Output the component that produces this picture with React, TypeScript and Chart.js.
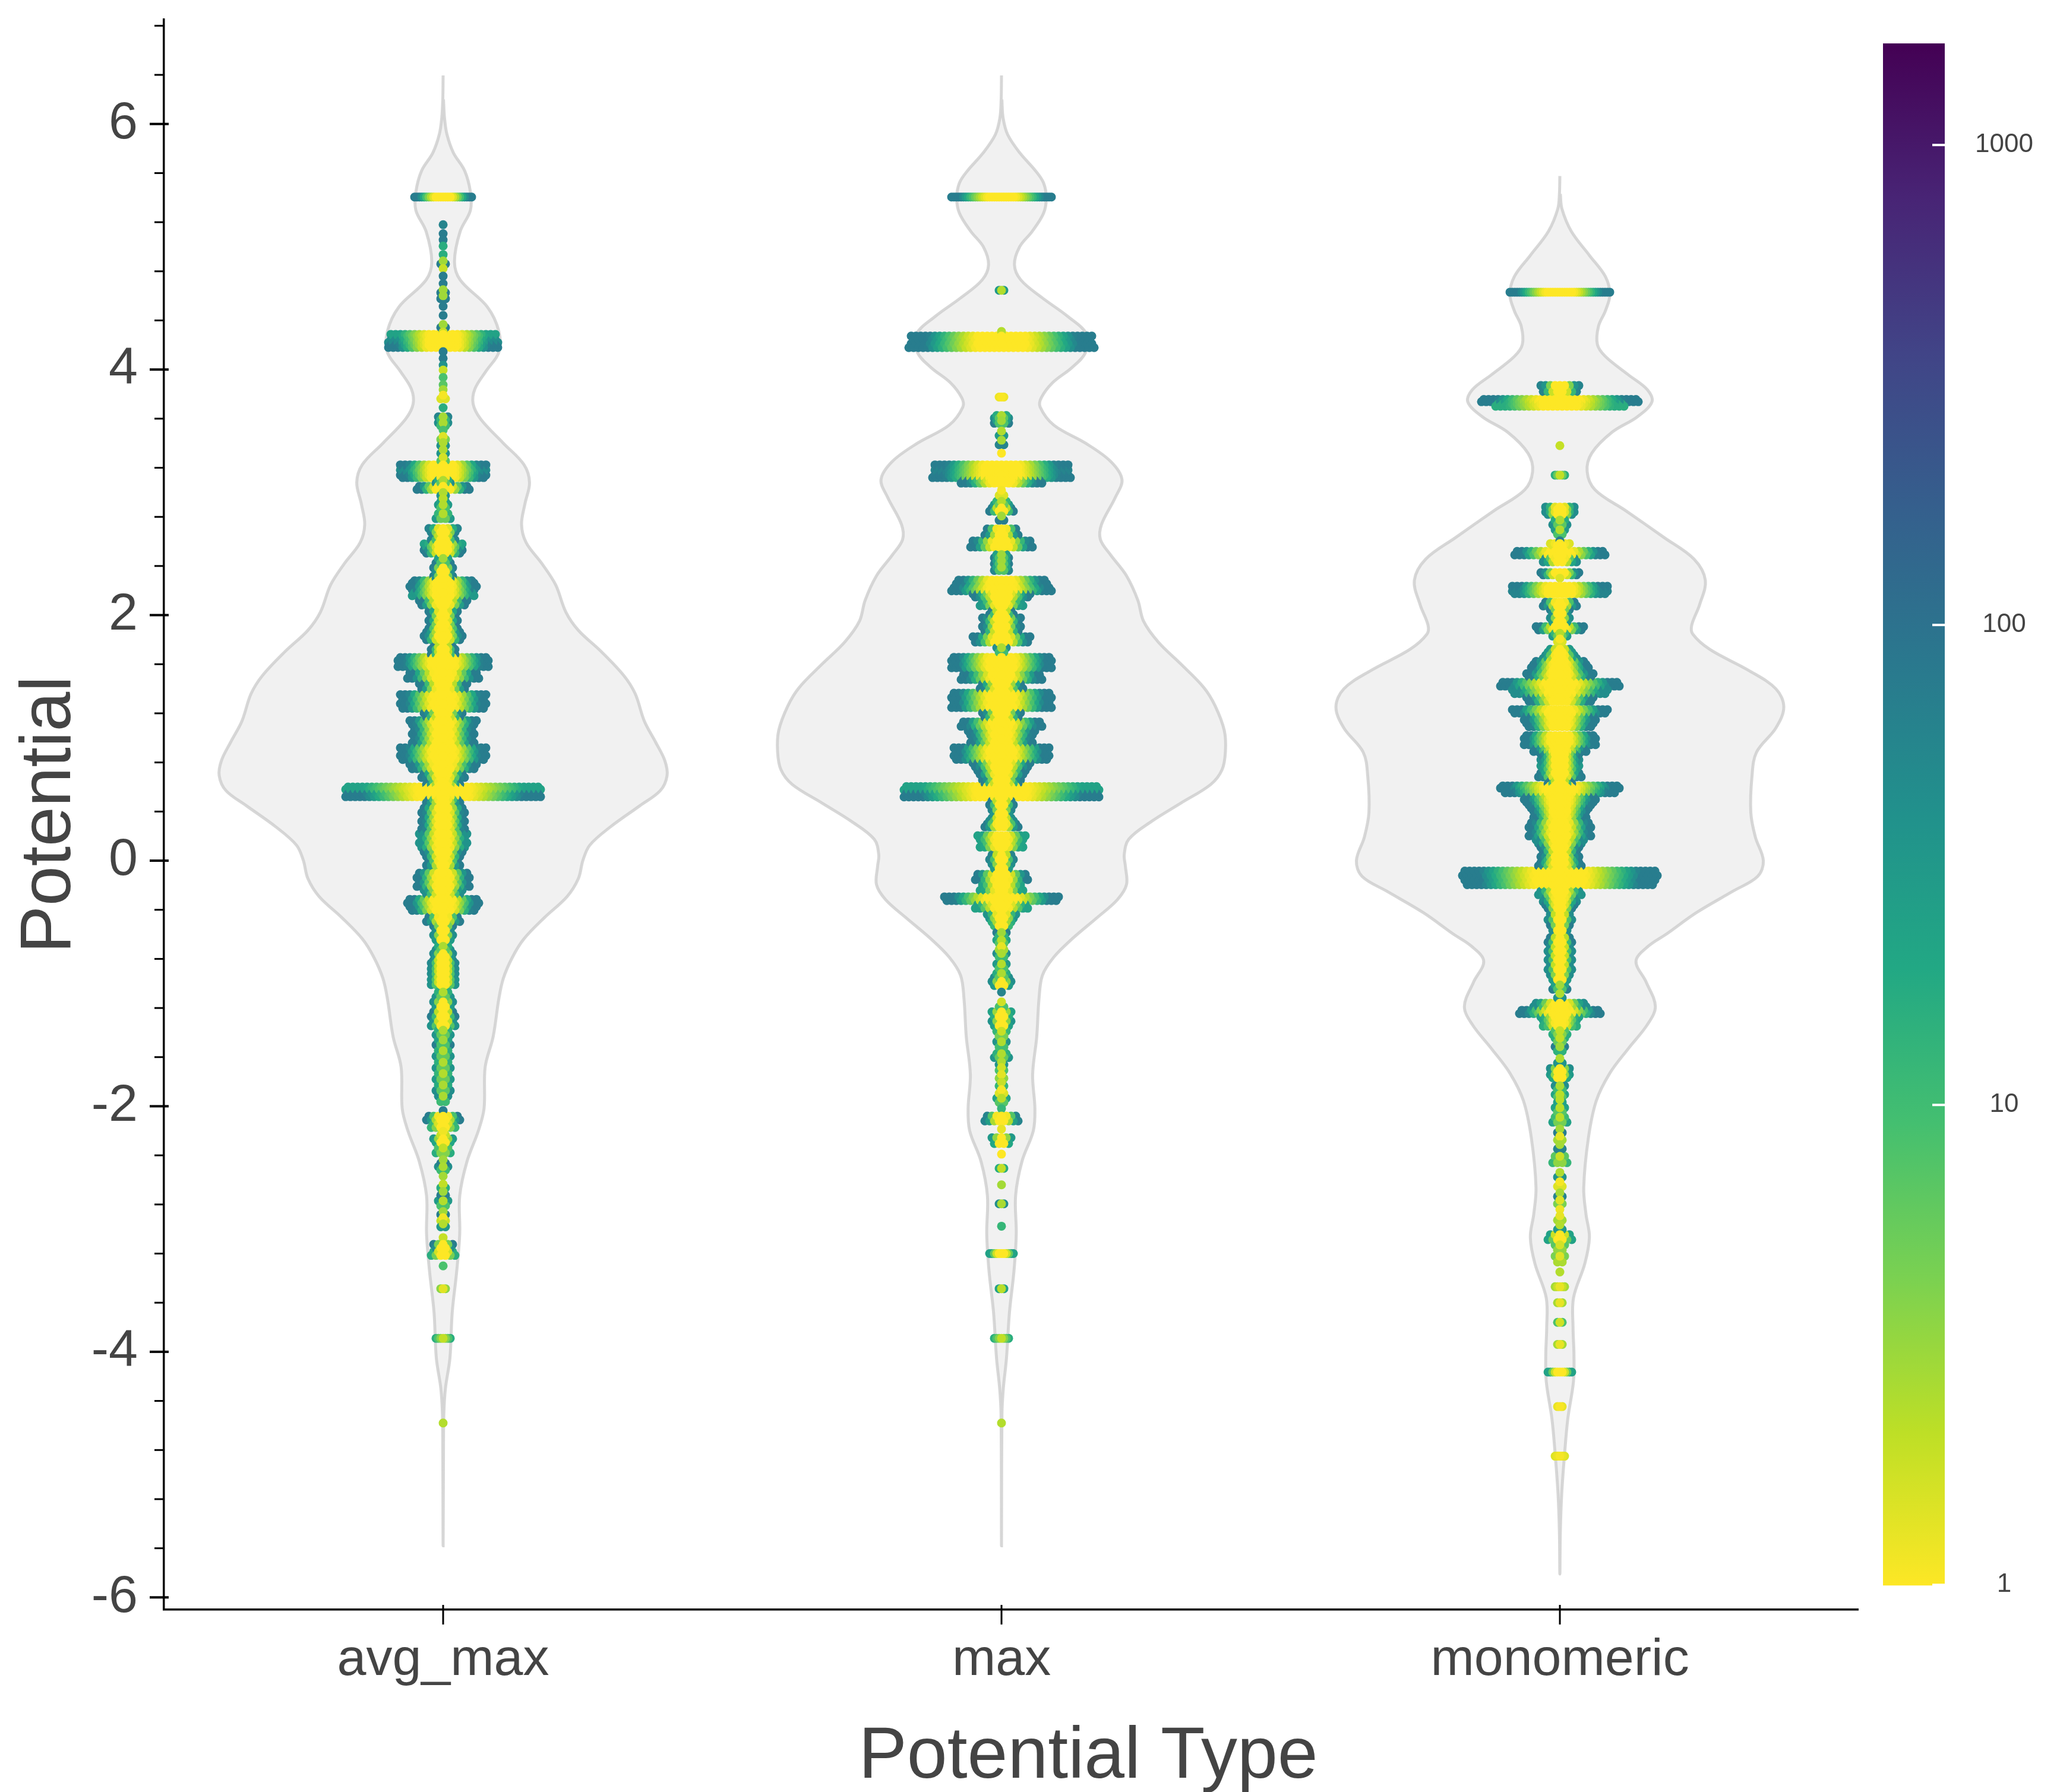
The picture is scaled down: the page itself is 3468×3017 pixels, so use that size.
import React, { useEffect, useRef } from "react";
import { Chart, registerables } from "chart.js";

Chart.register(...registerables);

const categories = ["avg_max", "max", "monomeric"];
const yTickMajorEvery = 2;
const colorTicks = [1, 10, 100, 1000];
const colorMax = 1628;
const xTitle = "Potential Type";
const yTitle = "Potential";

// violin outline: [potential, density width]
const avgMaxViolin = [
  [6.395,0],[6.2,1.5],[6.05,6],[5.914,17],[5.766,45],[5.618,95],[5.445,120],[5.297,120],[5.125,75],[4.879,50],[4.73,75],[4.509,195],[4.312,245],[4.14,245],[3.99,190],[3.843,140],[3.72,132],[3.597,165],[3.4,265],[3.227,355],[3.08,380],[2.907,360],[2.739,345],[2.591,365],[2.418,435],[2.246,495],[2.024,540],[1.876,595],[1.704,695],[1.507,795],[1.359,845],[1.137,885],[0.964,935],[0.816,975],[0.693,985],[0.57,955],[0.447,865],[0.274,735],[0.126,645],[0.003,615],[-0.145,595],[-0.293,545],[-0.465,445],[-0.638,355],[-0.786,305],[-0.958,265],[-1.126,245],[-1.434,220],[-1.68,185],[-2.02,180],[-2.2,155],[-2.45,105],[-2.73,73],[-3.04,73],[-3.34,60],[-3.68,40],[-4.05,30],[-4.3,10],[-4.51,3],[-4.82,1.5],[-5.58,0],
];
const maxViolin = [
  [6.395,0],[6.2,1.5],[6.05,7],[5.914,27],[5.766,80],[5.618,150],[5.52,185],[5.396,197],[5.273,185],[5.125,135],[5,80],[4.854,57],[4.73,85],[4.583,180],[4.435,290],[4.287,375],[4.14,370],[4.016,310],[3.893,225],[3.77,175],[3.695,170],[3.548,230],[3.4,370],[3.252,480],[3.104,530],[2.956,500],[2.739,440],[2.616,435],[2.49,480],[2.32,550],[2.12,600],[1.95,625],[1.78,690],[1.6,790],[1.41,890],[1.26,940],[1.06,980],[0.89,985],[0.74,970],[0.62,920],[0.47,790],[0.32,660],[0.175,560],[0.05,540],[-0.046,545],[-0.194,550],[-0.317,510],[-0.465,420],[-0.638,310],[-0.786,230],[-0.934,180],[-1.126,165],[-1.434,155],[-1.742,137],[-2.02,147],[-2.2,140],[-2.45,90],[-2.73,62],[-3.04,65],[-3.34,55],[-3.68,35],[-4.05,22],[-4.3,8],[-4.51,2],[-5.58,0],
];
const monomericViolin = [
  [5.576,0],[5.43,2],[5.31,9],[5.127,50],[4.93,130],[4.758,200],[4.61,220],[4.477,200],[4.353,170],[4.205,165],[4.107,200],[3.959,300],[3.836,385],[3.737,405],[3.614,340],[3.49,230],[3.318,140],[3.17,120],[3.02,155],[2.85,290],[2.63,460],[2.456,590],[2.283,640],[2.086,615],[1.918,580],[1.844,585],[1.72,660],[1.55,830],[1.4,950],[1.25,985],[1.08,950],[0.883,865],[0.686,845],[0.39,840],[0.192,860],[0,895],[-0.128,870],[-0.25,760],[-0.424,600],[-0.596,470],[-0.695,390],[-0.818,335],[-0.99,380],[-1.187,420],[-1.335,385],[-1.533,300],[-1.73,220],[-1.957,160],[-2.265,125],[-2.665,105],[-2.88,115],[-3.066,130],[-3.28,110],[-3.56,60],[-3.805,58],[-4.02,62],[-4.24,60],[-4.545,35],[-4.85,20],[-5.16,8],[-5.47,2],[-5.81,0],
];
const violinScale = 2456;

// swarm rows: [potential, points per side, colour value at the row's edge]
const avgMaxSwarm = [
  [5.405,12,100],[5.18,0,80],[5.106,0,100],[5.056,0,100],[5.006,0,20],[4.936,0,20],[4.872,1,100],[4.823,0,2],[4.761,0,100],[4.7,0,100],[4.638,1,100],[4.589,1,100],[4.515,0,100],[4.441,0,100],[4.355,1,100],[4.306,0,2],[4.28,22,30],[4.23,23,60],[4.19,23,100],[4.146,0,100],[4.091,0,100],[4.036,0,50],[3.996,0,2],[3.936,0,10],[3.876,0,8],[3.836,0,3],[3.776,1,1.5],[3.689,0,20],[3.603,2,80],[3.554,2,60],[3.506,0,10],[3.443,1,5],[3.393,1,50],[3.332,1,50],[3.27,1,8],[3.213,18,100],[3.171,18,60],[3.13,18,100],[3.086,3,60],[3.036,11,100],[2.986,1,50],[2.936,1,30],[2.886,2,40],[2.806,3,40],
  [2.69,6,80],[2.628,5,80],[2.567,8,30],[2.517,8,100],[2.443,3,100],[2.37,4,100],[2.308,4,100],[2.27,13,100],[2.22,14,100],[2.17,13,40],[2.1,10,100],[2.012,6,100],[1.94,6,100],[1.876,7,100],[1.815,8,100],[1.73,5,100],[1.69,5,100],[1.642,19,100],[1.593,19,100],[1.507,15,100],[1.42,10,100],[1.334,18,100],[1.26,18,100],[1.186,8,100],[1.125,14,100],[1.05,13,100],[0.977,13,100],[0.903,18,100],[0.84,18,100],[0.767,14,100],[0.693,9,100],[0.63,7,100],[0.59,41,30],[0.533,41,100],[0.484,7,100],[0.41,9,100],[0.336,9,100],[0.274,9,100],[0.2,10,50],[0.126,10,50],[0.052,8,100],[-0.02,7,100],[-0.12,11,100],[-0.194,11,100],[-0.256,8,60],[-0.33,15,100],[-0.39,14,100],[-0.478,7,100],[-0.55,4,100],[-0.626,4,60],[-0.712,3,60],[-0.77,4,70],[-0.823,5,70],[-0.87,5,60],[-0.91,5,60],[-0.96,5,50],[-1,5,50],[-1.09,3,50],[-1.17,4,60],
  [-1.25,5,100],[-1.326,5,50],[-1.4,3,50],[-1.48,3,100],[-1.57,3,50],[-1.665,3,50],[-1.757,3,40],[-1.85,3,60],[-1.94,2,60],[-2.035,0,100],[-2.096,7,100],[-2.158,5,15],[-2.22,1,2],[-2.28,4,40],[-2.36,3,20],[-2.45,1,100],[-2.506,2,60],[-2.57,0,3],[-2.65,1,20],[-2.71,1,100],[-2.79,2,40],[-2.87,1,100],[-2.92,1,2],[-2.97,1,40],[-3.07,0,2],[-3.14,4,100],[-3.2,5,20],[-3.3,0,10],[-3.486,1,4],[-3.89,3,20],[-4.58,0,2.5],
];
const maxSwarm = [
  [5.405,21,100],[4.645,1,40],[4.31,0,2.5],[4.26,38,100],[4.195,39,100],[3.776,1,1.2],[3.615,3,60],[3.573,3,100],[3.48,1,40],[3.406,1,80],[3.319,0,1],[3.213,28,100],[3.171,28,80],[3.13,29,100],[3.086,17,100],[2.996,1,1.5],[2.913,3,40],[2.859,5,100],[2.79,1,100],
  [2.677,7,100],[2.579,13,100],[2.48,3,100],[2.43,3,100],[2.377,3,80],[2.27,19,100],[2.21,21,100],[2.16,12,100],[2.093,9,40],[2.02,5,100],[1.963,8,100],[1.888,8,100],[1.802,12,100],[1.716,2,60],[1.642,21,100],[1.585,21,100],[1.494,17,100],[1.42,9,100],[1.346,21,100],[1.267,21,100],[1.186,8,100],[1.112,17,100],[1.04,14,100],[0.977,13,100],[0.903,20,100],[0.84,20,100],[0.78,12,100],[0.718,10,100],[0.644,8,100],[0.59,41,30],[0.533,41,100],[0.47,5,100],[0.397,4,80],[0.336,5,60],[0.287,7,100],[0.188,10,30],[0.126,9,30],[0.028,5,80],[-0.046,4,60],[-0.133,11,100],[-0.22,9,30],[-0.31,24,100],[-0.372,11,30],[-0.453,6,50],[-0.515,4,20],[-0.6,2,100],[-0.66,2,30],[-0.712,1,3],[-0.77,2,60],[-0.86,2,40],[-0.934,3,60],[-1,4,60],[-1.07,0,80],
  [-1.17,1,10],[-1.25,4,30],[-1.326,4,50],[-1.41,2,15],[-1.496,2,50],[-1.588,3,50],[-1.65,1,50],[-1.696,1,10],[-1.757,1,4],[-1.82,1,15],[-1.88,1,1.5],[-1.952,2,30],[-2.02,0,15],[-2.1,7,80],[-2.186,0,1.3],[-2.28,4,40],[-2.39,0,1],[-2.506,1,20],[-2.64,0,3],[-2.795,1,60],[-2.977,0,15],[-3.2,5,30],[-3.486,1,30],[-3.89,3,20],[-4.58,0,2.5],
];
const monomericSwarm = [
  [4.63,21,100],[3.845,8,80],[3.747,33,100],[3.71,27,20],[3.38,0,2],[3.14,2,20],[2.87,6,60],[2.83,6,60],[2.755,3,60],[2.677,2,40],[2.605,0,100],[2.575,4,1.5],[2.505,19,100],[2.448,7,60],[2.337,8,100],[2.3,0,1.5],[2.225,20,100],[2.185,20,80],[2.09,7,100],[2.028,4,100],
  [1.96,4,60],[1.893,10,100],[1.84,3,40],[1.795,1,1.5],[1.71,5,40],[1.66,7,60],[1.61,11,100],[1.56,12,100],[1.51,14,100],[1.437,25,100],[1.376,20,60],[1.314,14,100],[1.216,20,100],[1.16,15,100],[1.105,14,100],[1.006,15,100],[0.957,15,100],[0.9,11,100],[0.858,8,100],[0.81,8,60],[0.76,8,40],[0.698,9,100],[0.636,5,100],[0.6,25,100],[0.562,23,100],[0.51,15,100],[0.464,14,100],[0.415,12,100],[0.365,11,100],[0.29,13,100],[0.217,13,100],[0.155,10,60],[0.094,8,100],[0.02,8,100],[-0.03,9,100],[-0.103,41,100],[-0.177,40,100],[-0.263,9,50],[-0.32,7,60],[-0.374,6,100],[-0.46,5,60],[-0.547,4,100],[-0.645,5,100],[-0.72,5,60],[-0.79,5,60],[-0.867,5,60],[-0.95,4,60],[-1.03,3,100],[-1.1,1,50],[-1.175,11,60],[-1.232,17,100],[-1.286,8,30],[-1.336,7,20],[-1.4,3,20],[-1.46,2,20],[-1.533,2,100],[-1.63,1,50],[-1.705,4,60],[-1.755,4,40],[-1.85,2,60],[-1.915,2,30],
  [-1.957,1,30],[-2.03,2,30],[-2.11,3,30],[-2.2,1,100],[-2.26,1,3],[-2.33,1,80],[-2.434,3,15],[-2.558,1,50],[-2.634,1,1.5],[-2.72,1,80],[-2.78,1,5],[-2.84,0,1.2],[-2.91,1,3],[-2.985,1,40],[-3.066,5,30],[-3.15,2,8],[-3.245,2,5],[-3.35,0,2.5],[-3.47,2,3],[-3.6,1,3],[-3.76,1,10],[-3.94,1,3],[-4.165,5,30],[-4.446,1,1.3],[-4.85,2,1.5],
];

const violins = [avgMaxViolin, maxViolin, monomericViolin];
const swarms = [avgMaxSwarm, maxSwarm, monomericSwarm];

const FONT = "'Liberation Sans', Arial, Helvetica, sans-serif";
const TEXT = "#444444";
const VIRIDIS = ["#440154","#482475","#414487","#355f8d","#2a788e","#21918c","#22a884","#44bf70","#7ad151","#bddf26","#fde725"];

function hex(c: string) { return [1,3,5].map((i) => parseInt(c.slice(i,i+2),16)); }
function viridis(v: number) {
  const t = Math.max(0, Math.min(1, 1 - Math.log10(v) / Math.log10(colorMax))) * 10;
  const i = Math.min(9, Math.floor(t)), f = t - i;
  const a = hex(VIRIDIS[i]), b = hex(VIRIDIS[i+1]);
  return `rgb(${a.map((x,n)=>Math.round(x+(b[n]-x)*f)).join(",")})`;
}

const swarmStep = 4 / 940;
function swarmPoints(center: number, rows: number[][]) {
  const pts: {x:number;y:number;c:string;o:number}[] = [];
  rows.forEach(([y, n, edge], r) => {
    const gaps = [rows[r - 1], rows[r + 1]].filter(Boolean).map((o) => Math.abs(o[0] - y));
    const gap = Math.min(...gaps);
    const spread = gap < 0.11 ? gap / 4 : 0;
    for (let k = -n; k <= n; k++) {
      const t = n === 0 ? 1 : Math.abs(k) / n;
      const u = n === 0 ? 1 : n <= 3 ? 0.25 + 0.75 * t : Math.pow(Math.max(0, Math.min(1, (t - 0.25) / 0.55)), 1.3);
      const off = n >= 1 ? (k % 2 === 0 ? spread : -spread) : 0;
      pts.push({ x: center + k * swarmStep, y: y + off, c: viridis(Math.pow(edge, u * 0.93)), o: Math.abs(k) });
    }
  });
  return pts.sort((a, b) => b.o - a.o);
}
function violinPath(center: number, rows: number[][]) {
  const left = rows.map(([y, w]) => ({ x: center - w / violinScale, y }));
  const right = rows.slice(1, -1).reverse().map(([y, w]) => ({ x: center + w / violinScale, y }));
  return [...left, ...right];
}

const violinFill = {
  id: "violinFill",
  beforeDatasetsDraw(chart: any) {
    const { ctx } = chart;
    chart.data.datasets.forEach((d: any, i: number) => {
      if (!d.isViolin) return;
      const line = chart.getDatasetMeta(i).dataset;
      ctx.save();
      ctx.beginPath();
      line.path(ctx);
      ctx.closePath();
      ctx.fillStyle = "#f1f1f1";
      ctx.fill();
      ctx.restore();
    });
  },
};

const decorations = {
  id: "decorations",
  afterDatasetsDraw(chart: any) {
    const { ctx, scales, chartArea } = chart;
    ctx.save();
    ctx.strokeStyle = "#000";
    for (const t of scales.x.ticks) {
      const px = scales.x.getPixelForValue(t.value);
      ctx.lineWidth = 3;
      ctx.beginPath(); ctx.moveTo(px, chartArea.bottom - 8); ctx.lineTo(px, chartArea.bottom + 25); ctx.stroke();
    }
    for (const t of scales.y.ticks) {
      const py = scales.y.getPixelForValue(t.value);
      const major = isMajor(t.value);
      ctx.lineWidth = major ? 4 : 3;
      ctx.beginPath();
      ctx.moveTo(chartArea.left - (major ? 24 : 16), py);
      ctx.lineTo(chartArea.left + (major ? 8 : 0), py);
      ctx.stroke();
    }
    const c = scales.c;
    const top = c.getPixelForValue(colorMax), bottom = c.getPixelForValue(1) + 1;
    const barL = chartArea.right + 42, barR = chartArea.right + 146;
    const g = ctx.createLinearGradient(0, top, 0, bottom);
    VIRIDIS.forEach((col, i) => g.addColorStop(i / 10, col));
    ctx.fillStyle = g;
    ctx.fillRect(barL, top, barR - barL, bottom - top);
    ctx.fillStyle = "#fff";
    for (const v of colorTicks) {
      ctx.fillRect(barR - 21, c.getPixelForValue(v) - 2, 21, 4);
    }
    ctx.fillStyle = TEXT;
    ctx.font = `122px ${FONT}`;
    ctx.textAlign = "center";
    ctx.textBaseline = "alphabetic";
    ctx.fillText(xTitle, 1832, 2993);
    ctx.restore();
  },
};

function isMajor(v: number) {
  return Math.abs(v - Math.round(v)) < 1e-6 && Math.round(v) % yTickMajorEvery === 0;
}

function zeroPad(s: any) { s.paddingTop = 0; s.paddingBottom = 0; s.paddingLeft = 0; s.paddingRight = 0; }

export default function App() {
  const ref = useRef<HTMLCanvasElement>(null);
  useEffect(() => {
    const datasets: any[] = [];
    categories.forEach((name, i) => {
      datasets.push({
        label: name + " violin", isViolin: true, data: violinPath(i, violins[i]), showLine: true,
        tension: 0.35, borderColor: "rgba(205,205,205,0.8)", borderWidth: 5, pointRadius: 0, order: 2, fill: false,
      });
    });
    categories.forEach((name, i) => {
      const pts = swarmPoints(i, swarms[i]);
      datasets.push({
        label: name, data: pts.map((p) => ({ x: p.x, y: p.y })), pointBackgroundColor: pts.map((p) => p.c),
        pointBorderWidth: 0, pointRadius: 7.5, showLine: false, order: 1,
      });
    });
    const chart = new Chart(ref.current!, {
      type: "scatter",
      data: { datasets },
      plugins: [violinFill, decorations],
      options: {
        animation: false, responsive: false, devicePixelRatio: 1, events: [],
        layout: { padding: { top: 33, left: 0, right: 0, bottom: 0 }, autoPadding: false },
        plugins: { legend: { display: false }, tooltip: { enabled: false }, title: { display: false } },
        scales: {
          x: {
            type: "linear", min: -0.5, max: 2.534, position: "bottom",
            grid: { display: false, drawTicks: false },
            border: { display: true, color: "#000", width: 3.5 },
            afterFit: (s: any) => { s.height = 307; zeroPad(s); },
            ticks: {
              stepSize: 1, includeBounds: false, autoSkip: false, maxRotation: 0, padding: 33,
              color: TEXT, font: { family: FONT, size: 88 },
              callback: (v: any) => categories[Math.round(v)] ?? "",
            },
          },
          y: {
            type: "linear", min: -6.1, max: 6.85, position: "left",
            grid: { display: false, drawTicks: false },
            border: { display: true, color: "#000", width: 3.5 },
            afterFit: (s: any) => { s.width = 276; zeroPad(s); },
            title: { display: true, text: yTitle, color: TEXT, font: { family: FONT, size: 120 }, padding: { top: 13, bottom: 0 } },
            ticks: {
              stepSize: 0.4, includeBounds: false, autoSkip: false, padding: 44,
              color: TEXT, font: { family: FONT, size: 88 },
              callback: (v: any) => (isMajor(v) ? String(Math.round(v)) : ""),
            },
          },
          c: {
            type: "logarithmic", min: 0.888, max: 1825, position: "right",
            grid: { display: false, drawTicks: false }, border: { display: false },
            afterBuildTicks: (s: any) => { s.ticks = colorTicks.map((value) => ({ value })); },
            afterFit: (s: any) => { s.width = 340; zeroPad(s); },
            ticks: {
              autoSkip: false, crossAlign: "center", padding: 197, color: TEXT,
              font: { family: FONT, size: 44 }, callback: (v: any) => String(v),
            },
          },
        },
      } as any,
    } as any);
    return () => chart.destroy();
  }, []);
  return <canvas ref={ref} width={3468} height={3017} style={{ position: "absolute", left: 0, top: 0, display: "block" }} />;
}
